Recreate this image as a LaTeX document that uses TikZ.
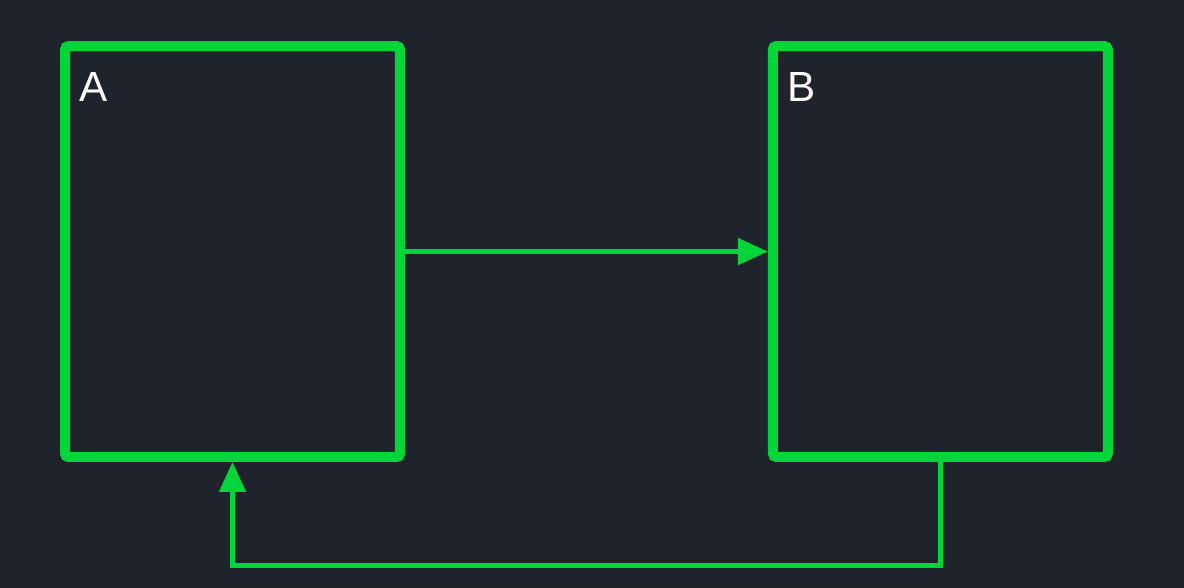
\documentclass[tikz,border=0pt]{standalone}
\usepackage{fontspec}
\setmainfont{Liberation Sans}
\usetikzlibrary{arrows.meta, positioning}
\definecolor{bgdark}{RGB}{31,35,43}
\definecolor{brightgreen}{RGB}{0,214,57}
\tikzset{
  panel/.style={draw=brightgreen, line width=0.2cm, rounded corners=2pt, minimum width=6.7cm, minimum height=8.22cm, inner sep=0pt},
  tag/.style={text=white, font=\fontsize{24}{28}\selectfont, inner sep=0pt, anchor=north west},
  flow/.style={draw=brightgreen, line width=0.1cm, -{Triangle[length=0.6cm, width=0.52cm]}}
}
\begin{document}
\begin{tikzpicture}[x=0.02cm, y=-0.02cm]
			\fill[bgdark] (0,0) rectangle (1184,588);
			\node[panel] (A) at (232.5,251.5) {};
			\node[panel, right=7.26cm of A] (B) {};
			\node[tag] (labA) at ([xshift=0.38cm, yshift=-0.62cm]A.north west) {A};
			\node[tag] (labB) at ([xshift=0.38cm, yshift=-0.62cm]B.north west) {B};
			\draw[flow] (A.east) -- (B.west);
			\draw[flow] (B.south) -- ++(0,104) -| (A.south);
		\end{tikzpicture}
\end{document}
